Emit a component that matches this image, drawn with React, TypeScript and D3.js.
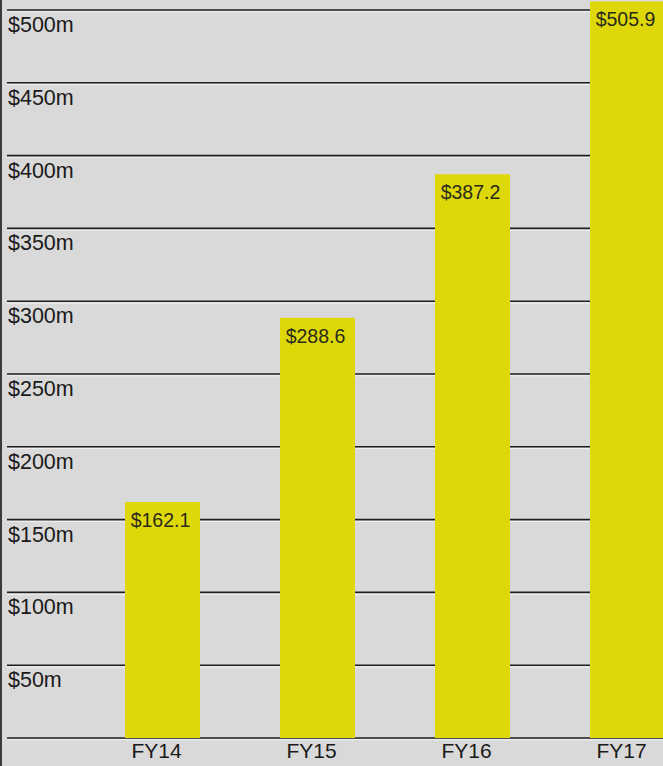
import React from "react";
import * as d3 from "d3";

const categories = ["FY14", "FY15", "FY16", "FY17"];
const revenue = [162.1, 288.6, 387.2, 505.9];
const valueLabels = ["$162.1", "$288.6", "$387.2", "$505.9"];
const tickValues = [0, 50, 100, 150, 200, 250, 300, 350, 400, 450, 500];
const tickLabels = ["", "$50m", "$100m", "$150m", "$200m", "$250m", "$300m", "$350m", "$400m", "$450m", "$500m"];

const W = 663;
const H = 766;

export default function App() {
  const y = d3.scaleLinear().domain([0, 500]).range([738, 10]);
  const x = d3.scalePoint<string>().domain(categories).range([162.5, 627.5]);
  const bw = 75;
  const font = "'Liberation Sans', Arial, Helvetica, sans-serif";
  return (
    <svg
      width={W}
      height={H}
      style={{ position: "fixed", left: 0, top: 0, display: "block" }}
      fontFamily={font}
    >
      <rect x={0} y={0} width={W} height={H} fill="#d9d9d9" />
      <rect x={0} y={0} width={2} height={H} fill="#3a3a3a" />
      {tickValues.map((t, i) => (
        <g key={t}>
          <line x1={7} x2={W} y1={y(t)} y2={y(t)} stroke="#1e1e1e" strokeWidth={1.6} />
          <line x1={7} x2={W} y1={y(t) + 1.8} y2={y(t) + 1.8} stroke="#f2f2f2" strokeWidth={1} />
          {tickLabels[i] && (
            <text x={8} y={y(t) + 22} fontSize={21.5} fill="#1a1a1a">
              {tickLabels[i]}
            </text>
          )}
        </g>
      ))}
      {categories.map((c, i) => {
        const cx = x(c) as number;
        const top = y(revenue[i]);
        return (
          <g key={c}>
            <rect x={cx - bw / 2} y={top} width={bw} height={y(0) - top} fill="#ded80a" />
            <text x={cx - 2} y={top + 25} fontSize={19.5} textAnchor="middle" fill="#2a2a1a">
              {valueLabels[i]}
            </text>
            <text x={cx - 6} y={758} fontSize={21} textAnchor="middle" fill="#1a1a1a">
              {c}
            </text>
          </g>
        );
      })}
    </svg>
  );
}
